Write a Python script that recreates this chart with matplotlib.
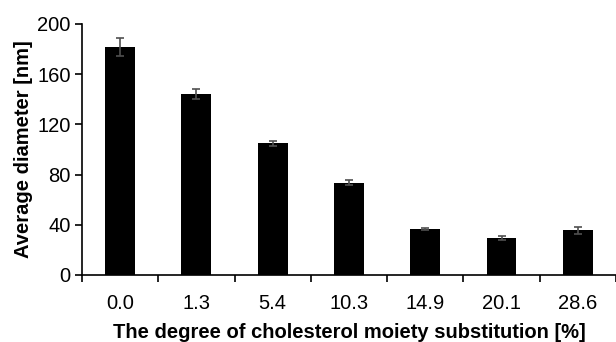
import matplotlib
matplotlib.use('Agg')
import matplotlib.pyplot as plt
import numpy as np

plt.rcParams['font.family'] = ['Liberation Sans', 'DejaVu Sans']

substitution = ['0.0', '1.3', '5.4', '10.3', '14.9', '20.1', '28.6']
diameter = [181.5, 144.0, 105.0, 73.5, 36.7, 29.5, 35.5]
diameter_err = [7.0, 4.0, 2.0, 2.2, 1.0, 1.8, 3.0]

fig = plt.figure(figsize=(6.16, 3.42), dpi=100)
ax = fig.add_axes([0.133, 0.196, 0.867, 0.734])

x = np.arange(len(substitution))
ax.bar(x, diameter, width=0.39, color='black', zorder=2)
ax.errorbar(x, diameter, yerr=diameter_err, fmt='none', ecolor='#505050',
            elinewidth=1.2, capsize=3.2, capthick=1.2, zorder=3)

ax.set_xlim(-0.5, len(substitution) - 0.5)
ax.set_ylim(0, 200)
ax.set_yticks([0, 40, 80, 120, 160, 200])
ax.set_xticks(x)
ax.set_xticklabels(substitution)
ax.set_xticks(np.arange(len(substitution) + 1) - 0.5, minor=True)

ax.tick_params(axis='x', which='major', length=0, labelsize=14.5, pad=14)
ax.tick_params(axis='x', which='minor', length=5, width=1.2, direction='out')
ax.tick_params(axis='y', length=5, width=1.2, direction='out', labelsize=14.5, pad=3)

for side in ['top', 'right']:
    ax.spines[side].set_visible(False)
for side in ['left', 'bottom']:
    ax.spines[side].set_linewidth(1.2)

ax.set_ylabel('Average diameter [nm]', fontsize=14.5, fontweight='bold', labelpad=3)
ax.set_xlabel('The degree of cholesterol moiety substitution [%]', fontsize=14.5,
              fontweight='bold', labelpad=7)

fig.savefig('out.png', dpi=100)
